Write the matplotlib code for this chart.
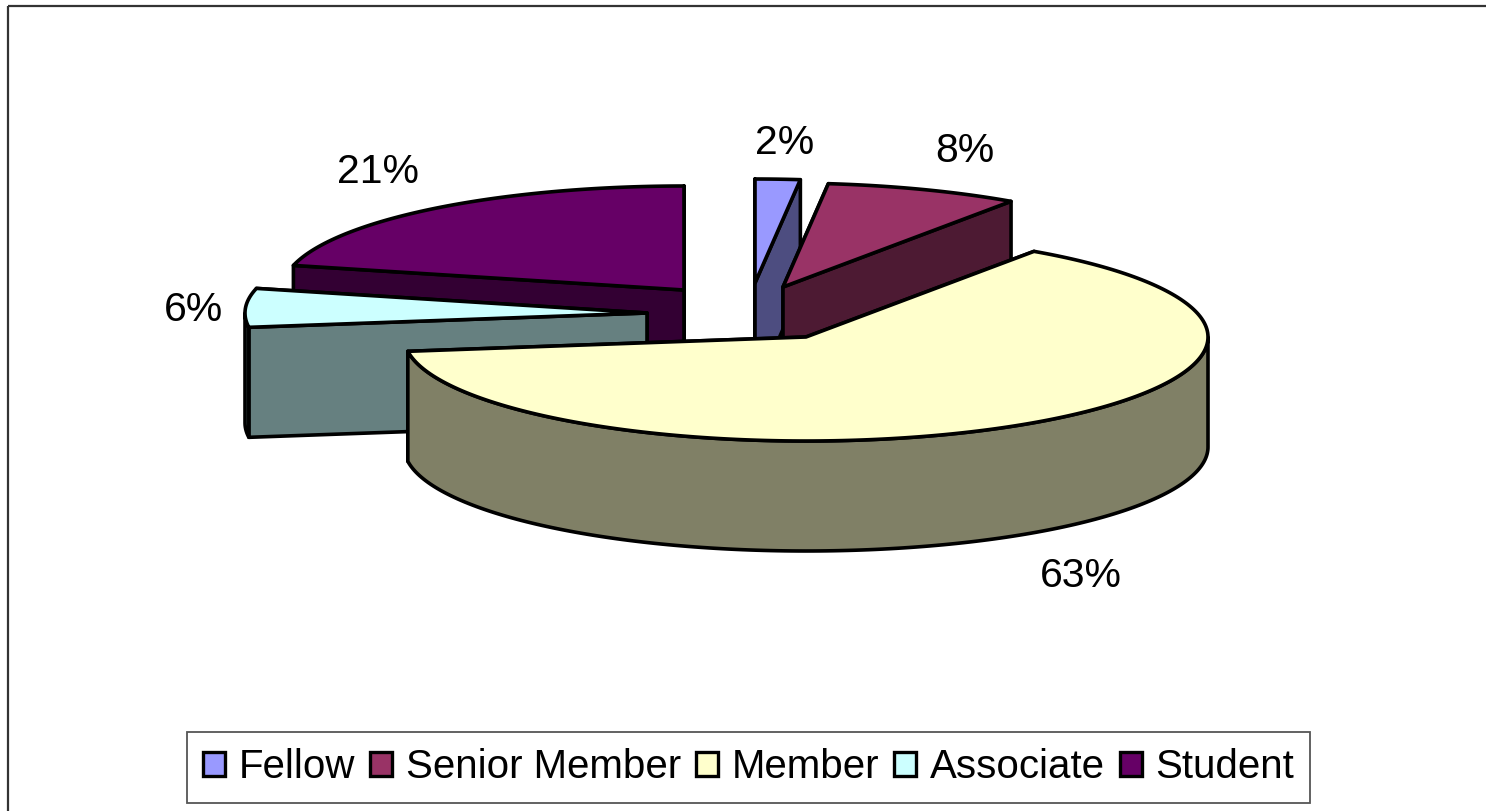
import numpy as np
import matplotlib
matplotlib.use("Agg")
import matplotlib.pyplot as plt
from matplotlib.patches import Polygon, Patch, Rectangle

plt.rcParams['font.family'] = ['Liberation Sans', 'DejaVu Sans']

categories = ["Fellow", "Senior Member", "Member", "Associate", "Student"]
# shares, the labels round them
values = [1.8, 7.8, 63.2, 6.0, 21.2]
colors = ["#9999FF", "#993366", "#FFFFCC", "#CCFFFF", "#660066"]
dark_colors = ["#4D4D80", "#4D1A33", "#808066", "#668080", "#330033"]

# pie layout, in pixels of the picture
apex_pos = [(755, 283), (783, 287), (806, 337), (647, 313), (684, 290)]
rx, ry = 402, 104
depth = 110
label_pos = [(785, 143), (965, 151), (1081, 576), (193, 310), (378, 172)]
draw_order = [4, 3, 0, 1, 2]
line = dict(edgecolor="black", linewidth=2.6, joinstyle="round")

fig = plt.figure(figsize=(14.86, 8.11), dpi=100)
ax = fig.add_axes([0, 0, 1, 1])
ax.set_xlim(0, 1486)
ax.set_ylim(811, 0)
ax.axis("off")

ax.add_patch(Rectangle((8, 6), 1600, 1000, fill=False, edgecolor="#333333", linewidth=1.6))


def arc(x0, y0, a, b):
    t = np.radians(np.linspace(a, b, max(int(abs(b - a)), 2) + 1))
    return np.column_stack([x0 + rx * np.sin(t), y0 - ry * np.cos(t)])


edges = np.concatenate([[0], np.cumsum(values)]) * 3.6
for i in draw_order:
    a, b = edges[i], edges[i + 1]
    apex = np.array(apex_pos[i], dtype=float)
    down = np.array([0, depth])
    rim = arc(apex[0], apex[1], a, b)
    # inner walls first (far one before near one), then the round wall, then the top
    for p in sorted((rim[0], rim[-1]), key=lambda q: q[1]):
        ax.add_patch(Polygon([apex, p, p + down, apex + down], facecolor=dark_colors[i], **line))
    lo, hi = max(a, 90), min(b, 270)
    if lo < hi:
        front = arc(apex[0], apex[1], lo, hi)
        ax.add_patch(Polygon(np.vstack([front, front[::-1] + down]), facecolor=dark_colors[i], **line))
    ax.add_patch(Polygon(np.vstack([apex, rim]), facecolor=colors[i], **line))

for v, (x, y) in zip(values, label_pos):
    ax.text(x, y, f"{round(v)}%", fontsize=29.5, ha="center", va="center", color="black")

handles = [Patch(facecolor=c, edgecolor="black", linewidth=2.4) for c in colors]
leg = ax.legend(handles, categories, ncols=5, loc="center", bbox_to_anchor=(748.5, 767.5),
                bbox_transform=ax.transData, fontsize=29, fancybox=False, framealpha=1,
                edgecolor="#555555", handlelength=0.55, handleheight=0.55, handletextpad=0.33,
                columnspacing=0.38, borderpad=0.4, borderaxespad=0)
leg.get_frame().set_linewidth(1.3)

fig.savefig("out.png", dpi=100, facecolor="white")
